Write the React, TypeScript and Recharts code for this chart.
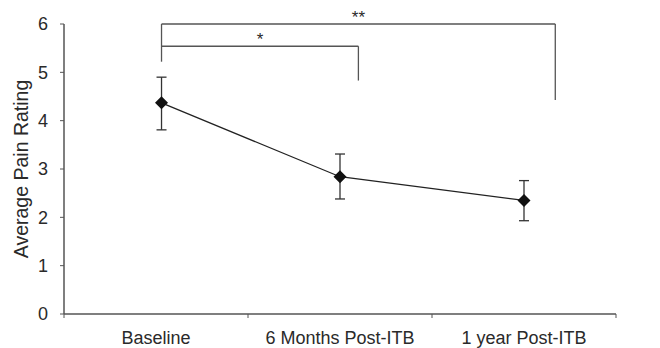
import React from 'react';
import { LineChart, Line, XAxis, YAxis, ErrorBar, ReferenceLine } from 'recharts';

const categories = ['Baseline', '6 Months Post-ITB', '1 year Post-ITB'];
const xPos = [0.53, 1.5, 2.5];
const means = [4.37, 2.84, 2.35];
const errDown = [0.56, 0.46, 0.42];
const errUp = [0.53, 0.47, 0.41];
const yTicks = [0, 1, 2, 3, 4, 5, 6];
const xTicks = [0, 0.5, 1, 1.5, 2, 2.5, 3];

// significance brackets (data coordinates)
const bracketLabels = ['**', '*'];
const bracketTopY = [6.0, 5.54];
const bracketLeftX = 0.53;
const bracketLeftBottomY = 5.22;
const bracketRightX = [2.67, 1.6];
const bracketRightBottomY = [4.43, 4.83];

const data = xPos.map((x, i) => ({ x, mean: means[i], err: [errDown[i], errUp[i]] }));

const AXIS = '#555';
const TEXT = '#2a2a2a';
const FONT = 'Liberation Sans, Arial, sans-serif';

const Diamond = (props: any) => {
  const { cx, cy } = props;
  if (cx == null || cy == null) return null;
  const r = 6.5;
  return <path d={`M${cx},${cy - r}L${cx + r},${cy}L${cx},${cy + r}L${cx - r},${cy}Z`} fill="#111" stroke="none" />;
};

const XTick = (props: any) => {
  const { x, y, payload } = props;
  const v = payload.value;
  if (Number.isInteger(v)) {
    return <line x1={x} x2={x} y1={y} y2={y + 4} stroke={AXIS} strokeWidth={1} />;
  }
  const idx = Math.floor(v);
  return (
    <text x={x} y={y + 30} textAnchor="middle" fontSize={18} fill={TEXT} fontFamily={FONT}>
      {categories[idx]}
    </text>
  );
};

export default function App() {
  return (
    <div style={{ position: 'absolute', left: 0, top: 0, width: 660, height: 348, background: '#fff' }}>
      <LineChart width={660} height={348} data={data} margin={{ top: 24, right: 44, left: 0, bottom: 4 }}>
        <XAxis
          dataKey="x"
          type="number"
          domain={[0, 3]}
          ticks={xTicks}
          interval={0}
          tickLine={false}
          tickSize={0}
          tickMargin={0}
          tick={<XTick />}
          height={30}
          axisLine={{ stroke: AXIS, strokeWidth: 1.5 }}
        />
        <YAxis
          type="number"
          domain={[0, 6]}
          ticks={yTicks}
          interval={0}
          width={64}
          tickSize={4}
          tickMargin={12}
          tickLine={{ stroke: AXIS }}
          axisLine={{ stroke: AXIS, strokeWidth: 1.5 }}
          tick={{ fontSize: 18, fill: TEXT, fontFamily: FONT }}
          label={{ value: 'Average Pain Rating', angle: -90, position: 'center', dx: -11, fontSize: 19.5, fill: TEXT, fontFamily: FONT }}
        />
        {bracketLabels.map((lab, i) => (
          <ReferenceLine
            key={'h' + i}
            segment={[{ x: bracketLeftX, y: bracketTopY[i] }, { x: bracketRightX[i], y: bracketTopY[i] }]}
            stroke={AXIS}
            strokeWidth={1.3}
            ifOverflow="visible"
            label={{ value: lab, position: 'top', offset: 1, fontSize: 17, fill: TEXT, fontFamily: FONT }}
          />
        ))}
        {bracketLabels.map((lab, i) => (
          <ReferenceLine
            key={'r' + i}
            segment={[{ x: bracketRightX[i], y: bracketTopY[i] }, { x: bracketRightX[i], y: bracketRightBottomY[i] }]}
            stroke={AXIS}
            strokeWidth={1.3}
            ifOverflow="visible"
          />
        ))}
        <ReferenceLine
          segment={[{ x: bracketLeftX, y: bracketTopY[0] }, { x: bracketLeftX, y: bracketLeftBottomY }]}
          stroke={AXIS}
          strokeWidth={1.3}
          ifOverflow="visible"
        />
        <Line
          dataKey="mean"
          stroke="#222"
          strokeWidth={1.3}
          dot={<Diamond />}
          activeDot={false}
          isAnimationActive={false}
        >
          <ErrorBar dataKey="err" direction="y" width={5} stroke="#333" strokeWidth={1.3} isAnimationActive={false} />
        </Line>
      </LineChart>
    </div>
  );
}
